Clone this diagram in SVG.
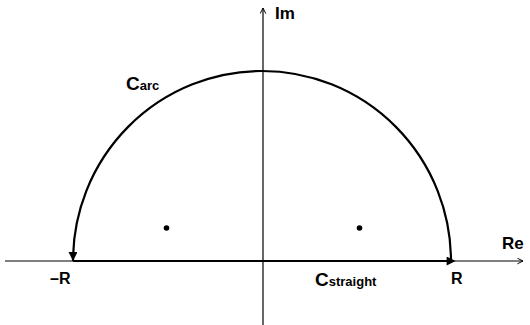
<svg xmlns="http://www.w3.org/2000/svg" width="530" height="325" viewBox="0 0 530 325">
<style>
text{font-family:"Liberation Sans",Arial,sans-serif;font-weight:bold;fill:#000}
.axis{stroke:#000;stroke-width:1.2;fill:none}
.path{stroke:#000;stroke-width:2.2;fill:none}
</style>
<defs>
<marker id="open" viewBox="0 0 10 10" refX="9" refY="5" markerWidth="7" markerHeight="7" markerUnits="userSpaceOnUse" orient="auto"><path d="M1,1 L9,5 L1,9" fill="none" stroke="#000" stroke-width="1.4"/></marker>
<marker id="solid" viewBox="0 0 10 10" refX="10" refY="5" markerWidth="14" markerHeight="9" markerUnits="userSpaceOnUse" orient="auto"><path d="M0,0 L10,5 L0,10 Z" fill="#000"/></marker>
<marker id="solid2" viewBox="0 0 10 10" refX="6" refY="5" markerWidth="15" markerHeight="9" markerUnits="userSpaceOnUse" orient="auto"><path d="M0,0 L10,5 L0,10 Z" fill="#000"/></marker>
</defs>
<g id="axes">
<line class="axis" x1="5" y1="261" x2="523" y2="261" marker-end="url(#open)"/>
<line class="axis" x1="263" y1="325" x2="263" y2="8" marker-end="url(#open)"/>
</g>
<g id="connectors">
<path class="path" d="M451,261 A189,190 0 0 0 73,261" marker-end="url(#solid)"/>
<line class="path" x1="73" y1="261" x2="452" y2="261" marker-end="url(#solid2)"/>
</g>
<g id="poles">
<circle cx="166.5" cy="228" r="2.8" fill="#000"/>
<circle cx="359.5" cy="228" r="2.8" fill="#000"/>
</g>
<g id="labels">
<text x="275" y="19" font-size="17">Im</text>
<text x="502" y="249" font-size="17">Re</text>
<text x="50" y="284" font-size="16">–R</text>
<text x="451" y="284" font-size="16">R</text>
<text x="315" y="286" font-size="19">C<tspan font-size="13">straight</tspan></text>
<text x="126" y="90" font-size="19">C<tspan font-size="13">arc</tspan></text>
</g>
</svg>
